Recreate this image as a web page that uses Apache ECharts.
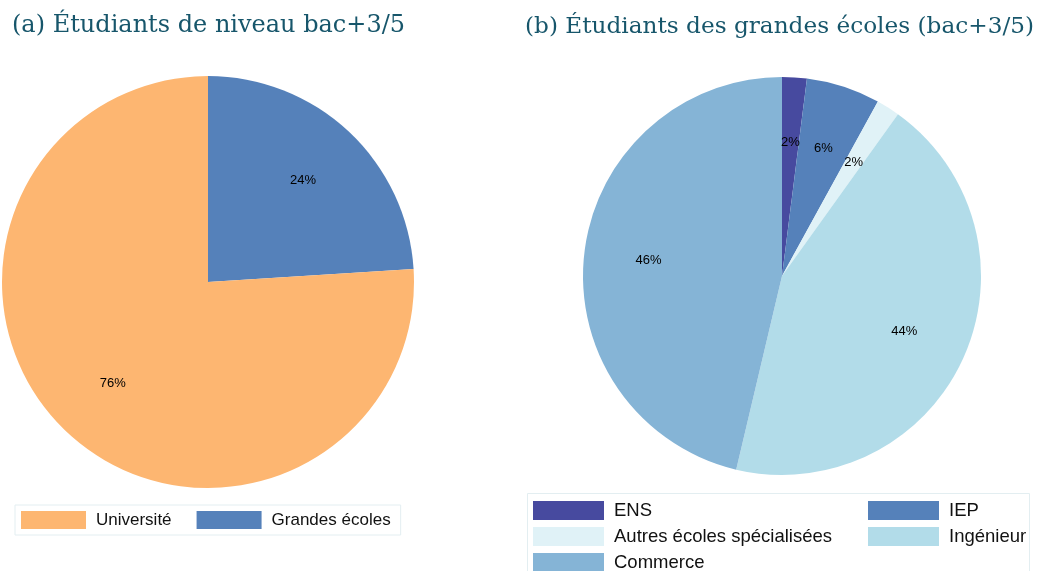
<!DOCTYPE html>
<html>
<head>
<meta charset="utf-8">
<script src="https://cdn.jsdelivr.net/npm/echarts@6/dist/echarts.min.js"></script>
<style>
  html, body { margin: 0; padding: 0; background: #fff; }
  #main { width: 1042px; height: 571px; }
</style>
</head>
<body>
<div id="main"></div>
<script>
// (a) niveau bac+3/5
const namesA = ['Grandes écoles', 'Université'];
const valuesA = [24, 76];
const colorsA = ['#5581ba', '#fdb671'];
const legendA = ['Université', 'Grandes écoles'];

// (b) grandes écoles
const namesB = ['ENS', 'IEP', 'Autres écoles spécialisées', 'Ingénieur', 'Commerce'];
const valuesB = [2.0, 6.0, 1.9, 43.8, 46.3];
const colorsB = ['#474a9f', '#5581ba', '#e0f2f7', '#b2dce9', '#85b4d6'];
const legendB1 = ['ENS', 'Autres écoles spécialisées', 'Commerce'];
const legendB2 = ['IEP', 'Ingénieur'];

const titleA = '(a) Étudiants de niveau bac+3/5';
const titleB = '(b) Étudiants des grandes écoles (bac+3/5)';

let chartDom = document.getElementById('main');
let myChart = echarts.init(chartDom);

function pieData(names, values, colors) {
    return names.map((n, i) => ({ name: n, value: values[i], itemStyle: { color: colors[i] } }));
}
function labelData(names, values) {
    return names.map((n, i) => ({ name: n, value: values[i] }));
}

const titleStyle = {
    fontFamily: 'DejaVu Serif',
    fontSize: 24,
    fontWeight: 'normal',
    color: '#17566b'
};

const pctLabel = {
    show: true,
    position: 'inside',
    color: '#000',
    fontSize: 13,
    fontFamily: 'Liberation Sans, Arial',
    formatter: p => Math.round(p.percent) + '%'
};

// labels sit around 2/3 of the radius, so they come from a transparent ring
function labelRing(center, r, names, values) {
    return {
        type: 'pie',
        center: center,
        radius: [r * 0.32, r],
        startAngle: 90,
        clockwise: true,
        silent: true,
        animation: false,
        itemStyle: { color: 'rgba(0,0,0,0)' },
        label: pctLabel,
        labelLine: { show: false },
        emphasis: { disabled: true },
        data: labelData(names, values)
    };
}

const legTextB = { fontSize: 18.5, lineHeight: 19, color: '#111', fontFamily: 'Liberation Sans, Arial', padding: [0, 0, 0, 5] };
function legendB(data, left) {
    return {
        data: data,
        left: left,
        top: 501,
        height: 120,
        orient: 'vertical',
        padding: 0,
        itemWidth: 71,
        itemHeight: 19,
        itemGap: 7,
        icon: 'rect',
        selectedMode: false,
        textStyle: legTextB
    };
}

let opt = {
    backgroundColor: '#fff',
    animation: false,
    title: [
        { text: titleA, left: 12, top: 14, padding: 0, textStyle: titleStyle },
        { text: titleB, left: 525, top: 15, padding: 0, textStyle: Object.assign({}, titleStyle, { fontSize: 23.2 }) }
    ],
    graphic: [
        {
            type: 'rect',
            shape: { x: 527.5, y: 493.5, width: 502, height: 100 },
            style: { fill: 'none', stroke: '#e3eef1', lineWidth: 1 },
            silent: true
        }
    ],
    legend: [
        {
            data: legendA,
            left: 15,
            top: 505,
            orient: 'horizontal',
            padding: [6, 10, 6, 6],
            itemWidth: 65,
            itemHeight: 18,
            itemGap: 25,
            borderColor: '#e3eef1',
            borderWidth: 1,
            icon: 'rect',
            selectedMode: false,
            textStyle: { fontSize: 17, lineHeight: 18, color: '#111', fontFamily: 'Liberation Sans, Arial', padding: [0, 0, 0, 5] }
        },
        legendB(legendB1, 533),
        legendB(legendB2, 868)
    ],
    series: [
        {
            type: 'pie',
            center: [208, 282],
            radius: [0, 206],
            startAngle: 90,
            clockwise: true,
            label: { show: false },
            labelLine: { show: false },
            emphasis: { disabled: true },
            data: pieData(namesA, valuesA, colorsA)
        },
        {
            type: 'pie',
            center: [782, 276],
            radius: [0, 199],
            startAngle: 90,
            clockwise: true,
            label: { show: false },
            labelLine: { show: false },
            emphasis: { disabled: true },
            data: pieData(namesB, valuesB, colorsB)
        },
        labelRing([208, 282], 206, namesA, valuesA),
        labelRing([782, 276], 199, namesB, valuesB)
    ]
};
myChart.setOption(opt);
</script>
</body>
</html>
